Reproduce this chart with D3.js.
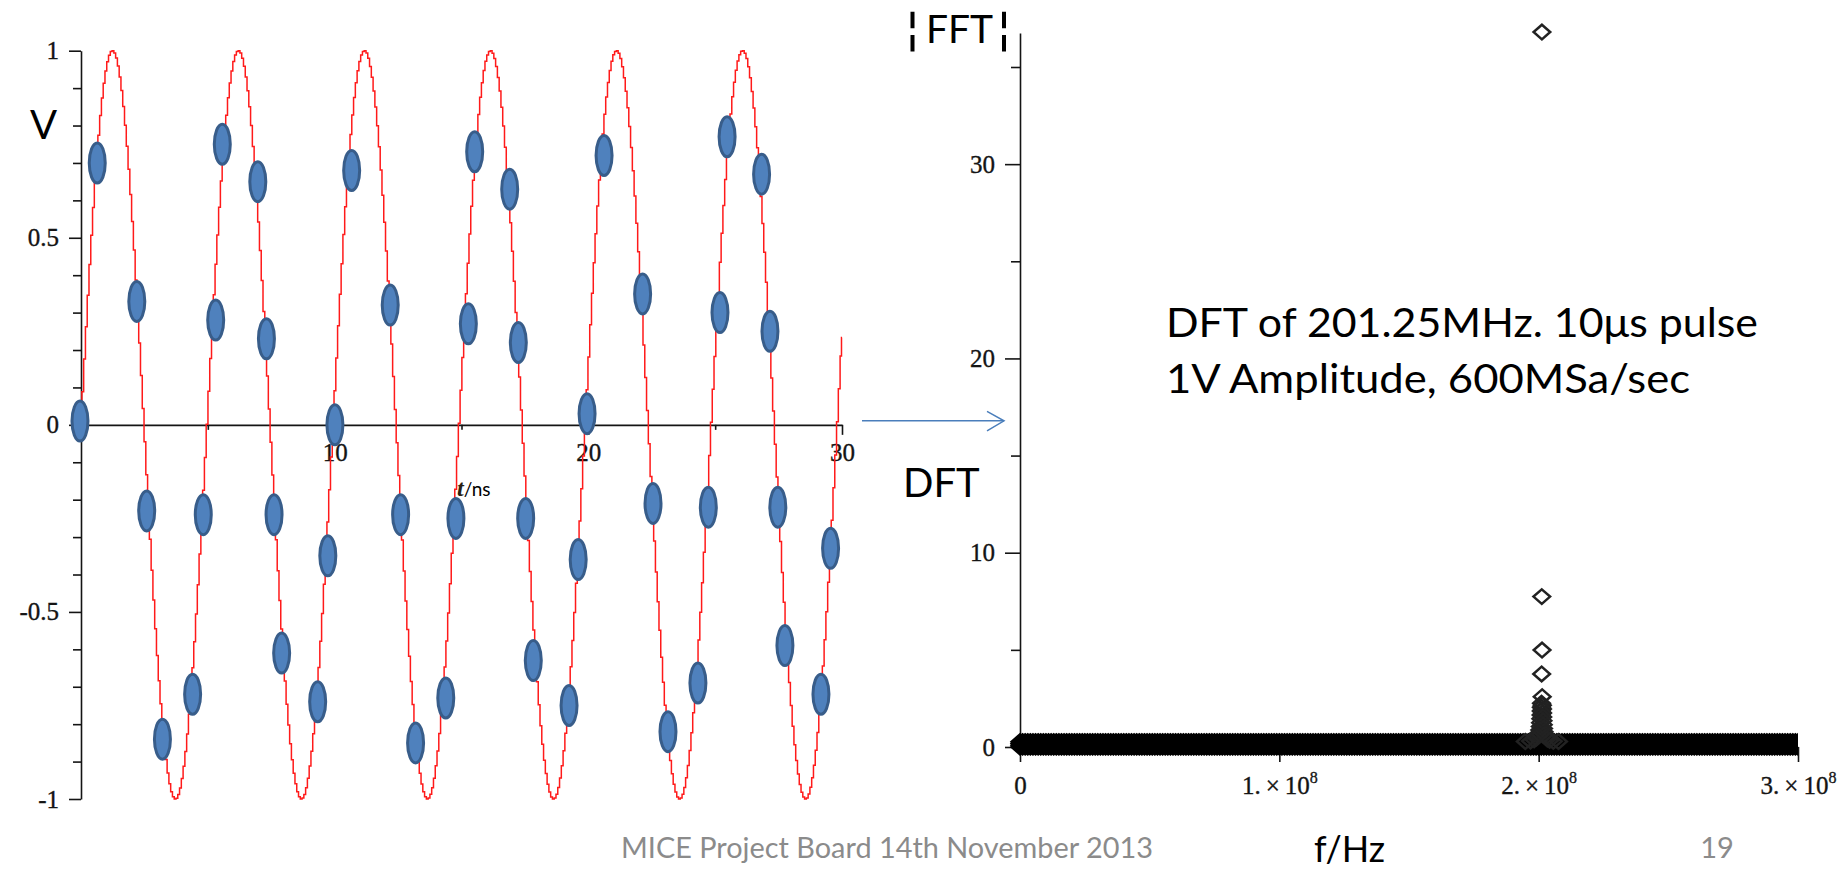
<!DOCTYPE html>
<html>
<head>
<meta charset="utf-8">
<script src="https://cdn.jsdelivr.net/npm/d3@7"></script>
<style>
  html, body { margin: 0; padding: 0; background: #ffffff; }
  svg { display: block; }
</style>
</head>
<body>
<svg id="slide" width="1843" height="872"></svg>
<script>
// ---------- time-domain panel ----------
const toneFreqMHz = 201.25;   // tone quoted in the annotation
const toneAmpV = 1;           // amplitude quoted in the annotation
const traceSpanNs = [0, 30];
const traceStepNs = 0.07;     // plotting resolution of the stepped trace

// hand-marked sample points
const sampleTimeNs = [-0.04, 0.64, 2.20, 2.59, 3.21, 4.40, 4.82, 5.31, 5.57, 6.97,
  7.31, 7.61, 7.91, 9.33, 9.73, 10.01, 10.67, 12.19, 12.60, 13.19,
  14.38, 14.78, 15.27, 15.52, 16.90, 17.24, 17.53, 17.83, 19.24, 19.60,
  19.95, 20.62, 22.14, 22.55, 23.14, 24.32, 24.73, 25.19, 25.47, 26.83,
  27.16, 27.47, 27.75, 29.17, 29.55];
const sampleVolt = [0.01, 0.70, 0.33, -0.23, -0.84, -0.72, -0.24, 0.28, 0.75, 0.65,
  0.23, -0.24, -0.61, -0.74, -0.35, 0.00, 0.68, 0.32, -0.24, -0.85,
  -0.73, -0.25, 0.27, 0.73, 0.63, 0.22, -0.25, -0.63, -0.75, -0.36,
  0.03, 0.72, 0.35, -0.21, -0.82, -0.69, -0.22, 0.30, 0.77, 0.67,
  0.25, -0.22, -0.59, -0.72, -0.33];

const voltMajorTicks = [1, 0.5, 0, -0.5, -1];
const voltMajorLabels = ["1", "0.5", "0", "-0.5", "-1"];
const voltMinorTicks = [0.9, 0.8, 0.7, 0.6, 0.4, 0.3, 0.2, 0.1,
  -0.1, -0.2, -0.3, -0.4, -0.6, -0.7, -0.8, -0.9];
const timeMajorTicks = [10, 20, 30];
const timeMajorLabels = ["10", "20", "30"];
const timeMinorTicks = [5, 15, 25];

// ---------- spectrum panel ----------
const peakFreqMHz = [201.25, 201.20, 201.30, 201.15, 201.35,
  201.10, 201.40, 201.05, 201.45, 201.00, 201.50, 200.95, 201.55, 200.85, 201.65,
  200.75, 201.75, 200.65, 201.85, 200.45, 202.05, 200.15, 202.35, 199.75, 202.75,
  199.15, 203.35, 198.25, 204.25, 196.85, 205.65, 194.85, 207.65];
const peakMag = [36.8, 7.74, 4.99, 3.76, 2.59,
  2.25, 2.15, 2.05, 1.95, 1.85, 1.75, 1.65, 1.55, 1.45, 1.35,
  1.25, 1.15, 1.05, 0.95, 0.87, 0.79, 0.72, 0.65, 0.58, 0.52,
  0.46, 0.41, 0.37, 0.34, 0.31, 0.29, 0.28, 0.28];
const floorLevels = [0, 0.09, 0.18, 0.27];   // spread of the leakage floor
const floorStepMHz = 1;
const floorSpanMHz = [0, 300];

const magMajorTicks = [0, 10, 20, 30];
const magMajorLabels = ["0", "10", "20", "30"];
const magMinorTicks = [5, 15, 25, 35];
const freqTicks = [0, 1e8, 2e8, 3e8];
const freqTickMantissa = ["0", "1.\u2009×\u200910", "2.\u2009×\u200910", "3.\u2009×\u200910"];
const freqTickExponent = ["", "8", "8", "8"];

// ---------- layout ----------
const svg = d3.select("#slide");
const serif = "'Liberation Serif', 'Times New Roman', serif";
const sans = "Lato, 'Open Sans', sans-serif";
const inkDark = "#141414";

const xT = d3.scaleLinear().domain(traceSpanNs).range([81, 842]);
const yV = d3.scaleLinear().domain([-1, 1]).range([799, 50.7]);
const xF = d3.scaleLinear().domain([0, 3e8]).range([1020, 1798]);
const yM = d3.scaleLinear().domain([0, 36.75]).range([747, 33]);

function styleAxis(g, fontSize) {
  g.select(".domain").attr("stroke", inkDark).attr("stroke-width", 1.6);
  g.selectAll(".tick line").attr("stroke", inkDark).attr("stroke-width", 1.6);
  g.selectAll("text")
    .attr("font-family", serif)
    .attr("font-size", fontSize)
    .attr("fill", inkDark)
    .attr("stroke", inkDark)
    .attr("stroke-width", 0.35);
}

// ---------- left panel axes ----------
const leftY0 = yV(0);
const gLY = svg.append("g").attr("transform", `translate(${xT(0)},0)`);
gLY.call(d3.axisLeft(yV).tickValues(voltMinorTicks).tickSize(8).tickSizeOuter(0).tickFormat(""));
styleAxis(gLY, 25);
const gLYm = svg.append("g").attr("transform", `translate(${xT(0)},0)`);
gLYm.call(d3.axisLeft(yV).tickValues(voltMajorTicks).tickSize(12).tickSizeOuter(0).tickPadding(10)
  .tickFormat((d, i) => voltMajorLabels[i]));
styleAxis(gLYm, 25);
gLYm.select(".domain").remove();

const gLX = svg.append("g").attr("transform", `translate(0,${leftY0})`);
gLX.call(d3.axisBottom(xT).tickValues(timeMinorTicks).tickSize(5).tickSizeOuter(0).tickFormat(""));
styleAxis(gLX, 25);
const gLXm = svg.append("g").attr("transform", `translate(0,${leftY0})`);
gLXm.call(d3.axisBottom(xT).tickValues(timeMajorTicks).tickSize(10).tickSizeOuter(0)
  .tickFormat((d, i) => timeMajorLabels[i]));
styleAxis(gLXm, 25);
gLXm.select(".domain").remove();
gLXm.selectAll("text").attr("y", 27).attr("dy", "0.35em");

// stepped sine trace of the quoted tone
const traceT = d3.range(traceSpanNs[0], traceSpanNs[1], traceStepNs).concat([traceSpanNs[1]]);
const trace = traceT.map(t => [t, toneAmpV * Math.sin(2 * Math.PI * toneFreqMHz * 1e-3 * t)]);
svg.append("path")
  .datum(trace)
  .attr("fill", "none")
  .attr("stroke", "#ff1a1a")
  .attr("stroke-width", 1.5)
  .attr("d", d3.line().x(d => xT(d[0])).y(d => yV(d[1])).curve(d3.curveStep));

// sample markers
svg.append("g").selectAll("ellipse")
  .data(sampleTimeNs.map((t, i) => ({ t, v: sampleVolt[i] })))
  .join("ellipse")
  .attr("cx", d => xT(d.t))
  .attr("cy", d => yV(d.v))
  .attr("rx", 8)
  .attr("ry", 20)
  .attr("fill", "#4f81bd")
  .attr("stroke", "#385d8a")
  .attr("stroke-width", 3);

// axis titles, left
svg.append("text").attr("x", 43.5).attr("y", 139).attr("text-anchor", "middle")
  .attr("font-family", sans).attr("font-size", 40).attr("fill", "#000").text("V");
const tLab = svg.append("text").attr("x", 457).attr("y", 496).attr("fill", "#000");
tLab.append("tspan").attr("font-family", serif).attr("font-style", "italic")
  .attr("font-weight", "bold").attr("font-size", 24).attr("fill", "#2a2110").text("t");
tLab.append("tspan").attr("font-family", sans).attr("font-size", 19).text("/ns");

// connecting arrow
const arrowY = leftY0 - 4;
const arrowX0 = xT(30) + 20, arrowX1 = xF(0) - 16;
svg.append("line").attr("x1", arrowX0).attr("x2", arrowX1).attr("y1", arrowY).attr("y2", arrowY)
  .attr("stroke", "#4a7ebb").attr("stroke-width", 1.5);
svg.append("path")
  .attr("d", `M${arrowX1 - 17},${arrowY - 9.5}L${arrowX1},${arrowY}L${arrowX1 - 17},${arrowY + 10}`)
  .attr("fill", "none").attr("stroke", "#4a7ebb").attr("stroke-width", 1.5);

// ---------- right panel axes ----------
const gRY = svg.append("g").attr("transform", `translate(${xF(0)},0)`);
gRY.call(d3.axisLeft(yM).tickValues(magMinorTicks).tickSize(9).tickSizeOuter(0).tickFormat(""));
styleAxis(gRY, 25);
const gRYm = svg.append("g").attr("transform", `translate(${xF(0)},0)`);
gRYm.call(d3.axisLeft(yM).tickValues(magMajorTicks).tickSize(15).tickSizeOuter(0).tickPadding(10)
  .tickFormat((d, i) => magMajorLabels[i]));
styleAxis(gRYm, 25);
gRYm.select(".domain").remove();

const gRX = svg.append("g").attr("transform", `translate(0,${yM(0)})`);
gRX.call(d3.axisBottom(xF).tickValues(freqTicks).tickSize(15).tickSizeOuter(0).tickFormat(""));
styleAxis(gRX, 25);
gRX.selectAll(".tick").each(function (d, i) {
  const t = d3.select(this).append("text")
    .attr("y", 38).attr("dy", "0.35em").attr("text-anchor", "middle")
    .attr("font-family", serif).attr("font-size", 25).attr("fill", inkDark)
    .attr("stroke", inkDark).attr("stroke-width", 0.35);
  t.append("tspan").text(freqTickMantissa[i]);
  if (freqTickExponent[i]) {
    t.append("tspan").attr("font-size", 16).attr("dy", "-0.65em").text(freqTickExponent[i]);
  }
});

// ---------- spectrum markers ----------
const diamondShape = {
  draw(ctx, size) {
    const w = Math.sqrt(size) * 0.55, h = w * 0.88;
    ctx.moveTo(0, -h); ctx.lineTo(w, 0); ctx.lineTo(0, h); ctx.lineTo(-w, 0); ctx.closePath();
  }
};
const diamondPath = d3.symbol().type(diamondShape).size(228)();

svg.append("clipPath").attr("id", "specClip")
  .append("rect").attr("x", 0).attr("y", 0).attr("width", xF(3e8)).attr("height", 872);

const floorFreqMHz = d3.range(floorSpanMHz[0], floorSpanMHz[1] + floorStepMHz, floorStepMHz);
const floorPoints = [];
floorLevels.forEach(lv => floorFreqMHz.forEach(f => floorPoints.push({ f: f * 1e6, m: lv })));
const peakPoints = peakFreqMHz.map((f, i) => ({ f: f * 1e6, m: peakMag[i] }));

const specG = svg.append("g").attr("clip-path", "url(#specClip)");
// the floor bins sit so close together that their outlines merge into a solid band
specG.append("g").selectAll("path")
  .data(floorPoints)
  .join("path")
  .attr("d", diamondPath)
  .attr("transform", d => `translate(${xF(d.f)},${yM(d.m)})`)
  .attr("fill", "#000")
  .attr("stroke", "#000")
  .attr("stroke-width", 2.6);
specG.append("g").selectAll("path")
  .data(peakPoints)
  .join("path")
  .attr("d", diamondPath)
  .attr("transform", d => `translate(${xF(d.f)},${yM(d.m)})`)
  .attr("fill", "none")
  .attr("stroke", "#222")
  .attr("stroke-width", 2.5);

// ---------- titles and annotation ----------
svg.append("text").attr("x", 926).attr("y", 43)
  .attr("font-family", sans).attr("font-size", 39).attr("fill", "#000").text("FFT");
[912.5, 1004].forEach(bx => {
  svg.append("line").attr("x1", bx).attr("x2", bx).attr("y1", 11.7).attr("y2", 51.7)
    .attr("stroke", "#000").attr("stroke-width", 4).attr("stroke-dasharray", "16.6,6.7");
});
svg.append("text").attr("x", 903).attr("y", 497)
  .attr("font-family", sans).attr("font-size", 40).attr("fill", "#000").text("DFT");

const note = svg.append("g").attr("font-family", sans).attr("font-size", 40).attr("fill", "#000");
note.append("text").attr("x", 1166).attr("y", 337)
  .attr("textLength", 592).attr("lengthAdjust", "spacingAndGlyphs")
  .text("DFT of 201.25MHz. 10μs pulse");
note.append("text").attr("x", 1166).attr("y", 393)
  .attr("textLength", 524).attr("lengthAdjust", "spacingAndGlyphs")
  .text("1V Amplitude, 600MSa/sec");

svg.append("text").attr("x", 1314).attr("y", 862)
  .attr("font-family", sans).attr("font-size", 36).attr("fill", "#000").text("f/Hz");

// slide footer
svg.append("text").attr("x", 621).attr("y", 858)
  .attr("textLength", 532).attr("lengthAdjust", "spacingAndGlyphs")
  .attr("font-family", sans).attr("font-size", 29).attr("fill", "#8b8b8b")
  .text("MICE Project Board 14th November 2013");
svg.append("text").attr("x", 1717).attr("y", 858).attr("text-anchor", "middle")
  .attr("font-family", sans).attr("font-size", 29).attr("fill", "#8b8b8b").text("19");
</script>
</body>
</html>
